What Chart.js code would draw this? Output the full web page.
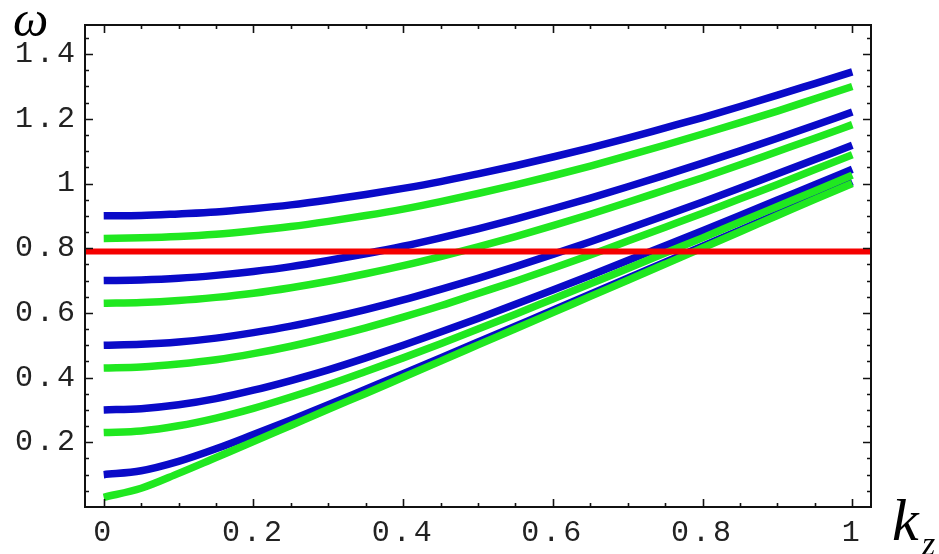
<!DOCTYPE html>
<html>
<head>
<meta charset="utf-8">
<script src="https://cdn.jsdelivr.net/npm/chart.js@4.4.1/dist/chart.umd.min.js"></script>
<style>
  html, body { margin: 0; padding: 0; background: #fff; }
  #wrap { position: relative; width: 939px; height: 554px; overflow: hidden; }
  canvas { position: absolute; left: 0; top: 0; }
  .lbl { position: absolute; font-family: "Liberation Serif", "DejaVu Serif", serif; font-style: italic; line-height: 1; color: #000; white-space: nowrap; }
</style>
</head>
<body>
<div id="wrap">
  <canvas id="c" width="939" height="554"></canvas>
  <div class="lbl" style="left:13px; top:-6px; font-size:50px;">ω</div>
  <div class="lbl" style="left:892px; top:490px; font-size:60px;">k</div>
  <div class="lbl" style="left:922px; top:527px; font-size:34px;">z</div>
</div>
<script>
// ---- data ----
const kValues = [0, 0.05, 0.1, 0.15, 0.2, 0.25, 0.3, 0.35, 0.4, 0.45, 0.5,
                 0.55, 0.6, 0.65, 0.7, 0.75, 0.8, 0.85, 0.9, 0.95, 1.0];

const blue09 = [0.900, 0.901, 0.906, 0.912, 0.922, 0.934, 0.949, 0.966, 0.985, 1.006, 1.030,
                1.055, 1.082, 1.110, 1.140, 1.172, 1.204, 1.238, 1.273, 1.309, 1.345];
const blue07 = [0.700, 0.702, 0.707, 0.716, 0.728, 0.743, 0.762, 0.783, 0.806, 0.832, 0.860,
                0.890, 0.922, 0.955, 0.990, 1.026, 1.063, 1.101, 1.140, 1.180, 1.221];
const blue05 = [0.500, 0.503, 0.510, 0.522, 0.539, 0.559, 0.583, 0.610, 0.640, 0.673, 0.707,
                0.743, 0.781, 0.820, 0.860, 0.901, 0.943, 0.986, 1.030, 1.074, 1.118];
const blue03 = [0.300, 0.304, 0.316, 0.335, 0.361, 0.391, 0.424, 0.461, 0.500, 0.541, 0.583,
                0.627, 0.671, 0.716, 0.762, 0.808, 0.854, 0.901, 0.949, 0.996, 1.044];
const blue01 = [0.100, 0.112, 0.141, 0.180, 0.224, 0.269, 0.316, 0.364, 0.412, 0.461, 0.510,
                0.559, 0.608, 0.658, 0.707, 0.757, 0.806, 0.856, 0.906, 0.955, 1.005];

const green083 = [0.830, 0.832, 0.836, 0.843, 0.854, 0.867, 0.883, 0.901, 0.921, 0.944, 0.969,
                  0.996, 1.024, 1.054, 1.086, 1.119, 1.153, 1.188, 1.224, 1.262, 1.300];
const green063 = [0.630, 0.632, 0.638, 0.648, 0.661, 0.678, 0.698, 0.721, 0.746, 0.774, 0.804,
                  0.836, 0.870, 0.905, 0.942, 0.980, 1.018, 1.058, 1.099, 1.140, 1.182];
const green043 = [0.430, 0.433, 0.442, 0.455, 0.474, 0.497, 0.524, 0.554, 0.587, 0.622, 0.660,
                  0.698, 0.738, 0.779, 0.822, 0.865, 0.908, 0.953, 0.997, 1.043, 1.089];
const green023 = [0.230, 0.235, 0.251, 0.275, 0.305, 0.340, 0.378, 0.419, 0.461, 0.505, 0.550,
                  0.596, 0.643, 0.690, 0.737, 0.785, 0.832, 0.881, 0.929, 0.977, 1.026];
const green003 = [0.030, 0.058, 0.104, 0.153, 0.202, 0.252, 0.302, 0.351, 0.401, 0.451, 0.501,
                  0.551, 0.601, 0.651, 0.701, 0.751, 0.801, 0.851, 0.901, 0.951, 1.000];

const redLevel = 0.79;
const redK = [-0.025, 1.025];

const xTickValues = [0, 0.2, 0.4, 0.6, 0.8, 1];
const xTickLabels = ["0", "0.2", "0.4", "0.6", "0.8", "1"];
const yTickValues = [0.2, 0.4, 0.6, 0.8, 1.0, 1.2, 1.4];
const yTickLabels = ["0.2", "0.4", "0.6", "0.8", "1", "1.2", "1.4"];

// ---- build ----
const BLUE = '#0a0ac8';
const GREEN = '#20e820';
const RED = '#f50000';

function series(arr) { return kValues.map((k, i) => ({ x: k, y: arr[i] })); }
function ds(arr, color, order) {
  return { data: series(arr), borderColor: color, borderWidth: 7.5, pointRadius: 0,
           cubicInterpolationMode: 'monotone', fill: false, order: order, borderCapStyle: 'butt' };
}

const datasets = [
  ds(blue09, BLUE, 3), ds(blue07, BLUE, 3), ds(blue05, BLUE, 3), ds(blue03, BLUE, 3), ds(blue01, BLUE, 3),
  ds(green083, GREEN, 2), ds(green063, GREEN, 2), ds(green043, GREEN, 2), ds(green023, GREEN, 2), ds(green003, GREEN, 2),
  { data: redK.map(k => ({ x: k, y: redLevel })), borderColor: RED, borderWidth: 6, pointRadius: 0, fill: false, order: 0 }
];

const frameAndTicks = {
  id: 'frameAndTicks',
  beforeDraw(chart) { chart.ctx.letterSpacing = '3px'; },
  afterDraw(chart) {
    const ctx = chart.ctx;
    const a = chart.chartArea;
    const xs = chart.scales.x, ys = chart.scales.y;
    ctx.save();
    ctx.letterSpacing = '0px';
    ctx.strokeStyle = '#111';
    ctx.lineWidth = 1.6;
    for (let i = 0; i <= 20; i++) {
      const v = i * 0.05;
      const len = (i % 4 === 0) ? 8 : 4;
      const px = Math.round(xs.getPixelForValue(v)) + 0.5;
      ctx.beginPath();
      ctx.moveTo(px, a.bottom); ctx.lineTo(px, a.bottom - len);
      ctx.moveTo(px, a.top); ctx.lineTo(px, a.top + len);
      ctx.stroke();
    }
    for (let i = 1; i <= 29; i++) {
      const v = i * 0.05;
      const len = (i % 4 === 0) ? 8 : 4;
      const py = Math.round(ys.getPixelForValue(v)) + 0.5;
      ctx.beginPath();
      ctx.moveTo(a.left, py); ctx.lineTo(a.left + len, py);
      ctx.moveTo(a.right, py); ctx.lineTo(a.right - len, py);
      ctx.stroke();
    }
    ctx.lineWidth = 2;
    ctx.strokeRect(a.left, a.top, a.right - a.left, a.bottom - a.top);
    ctx.restore();
  }
};

const tickFont = { family: '"Liberation Mono", "DejaVu Sans Mono", monospace', size: 30 };

new Chart(document.getElementById('c'), {
  type: 'line',
  data: { datasets },
  options: {
    responsive: false,
    animation: false,
    devicePixelRatio: 1,
    layout: { padding: { left: 0, top: 23, right: 68, bottom: 0 } },
    plugins: { legend: { display: false }, tooltip: { enabled: false }, title: { display: false } },
    scales: {
      x: {
        type: 'linear', min: -0.025, max: 1.025,
        afterBuildTicks: s => { s.ticks = xTickValues.map(v => ({ value: v })); },
        afterFit: s => { s.height = 47; },
        ticks: { callback: (v, i) => xTickLabels[i], font: tickFont, color: '#222', padding: 8, maxRotation: 0, autoSkip: false },
        grid: { display: false, drawTicks: false },
        border: { display: false }
      },
      y: {
        type: 'linear', min: 0, max: 1.49,
        afterBuildTicks: s => { s.ticks = yTickValues.map(v => ({ value: v })); },
        afterFit: s => { s.width = 85; },
        ticks: { callback: (v, i) => yTickLabels[i], font: tickFont, color: '#222', padding: 7, autoSkip: false },
        grid: { display: false, drawTicks: false },
        border: { display: false }
      }
    }
  },
  plugins: [frameAndTicks]
});
</script>
</body>
</html>
